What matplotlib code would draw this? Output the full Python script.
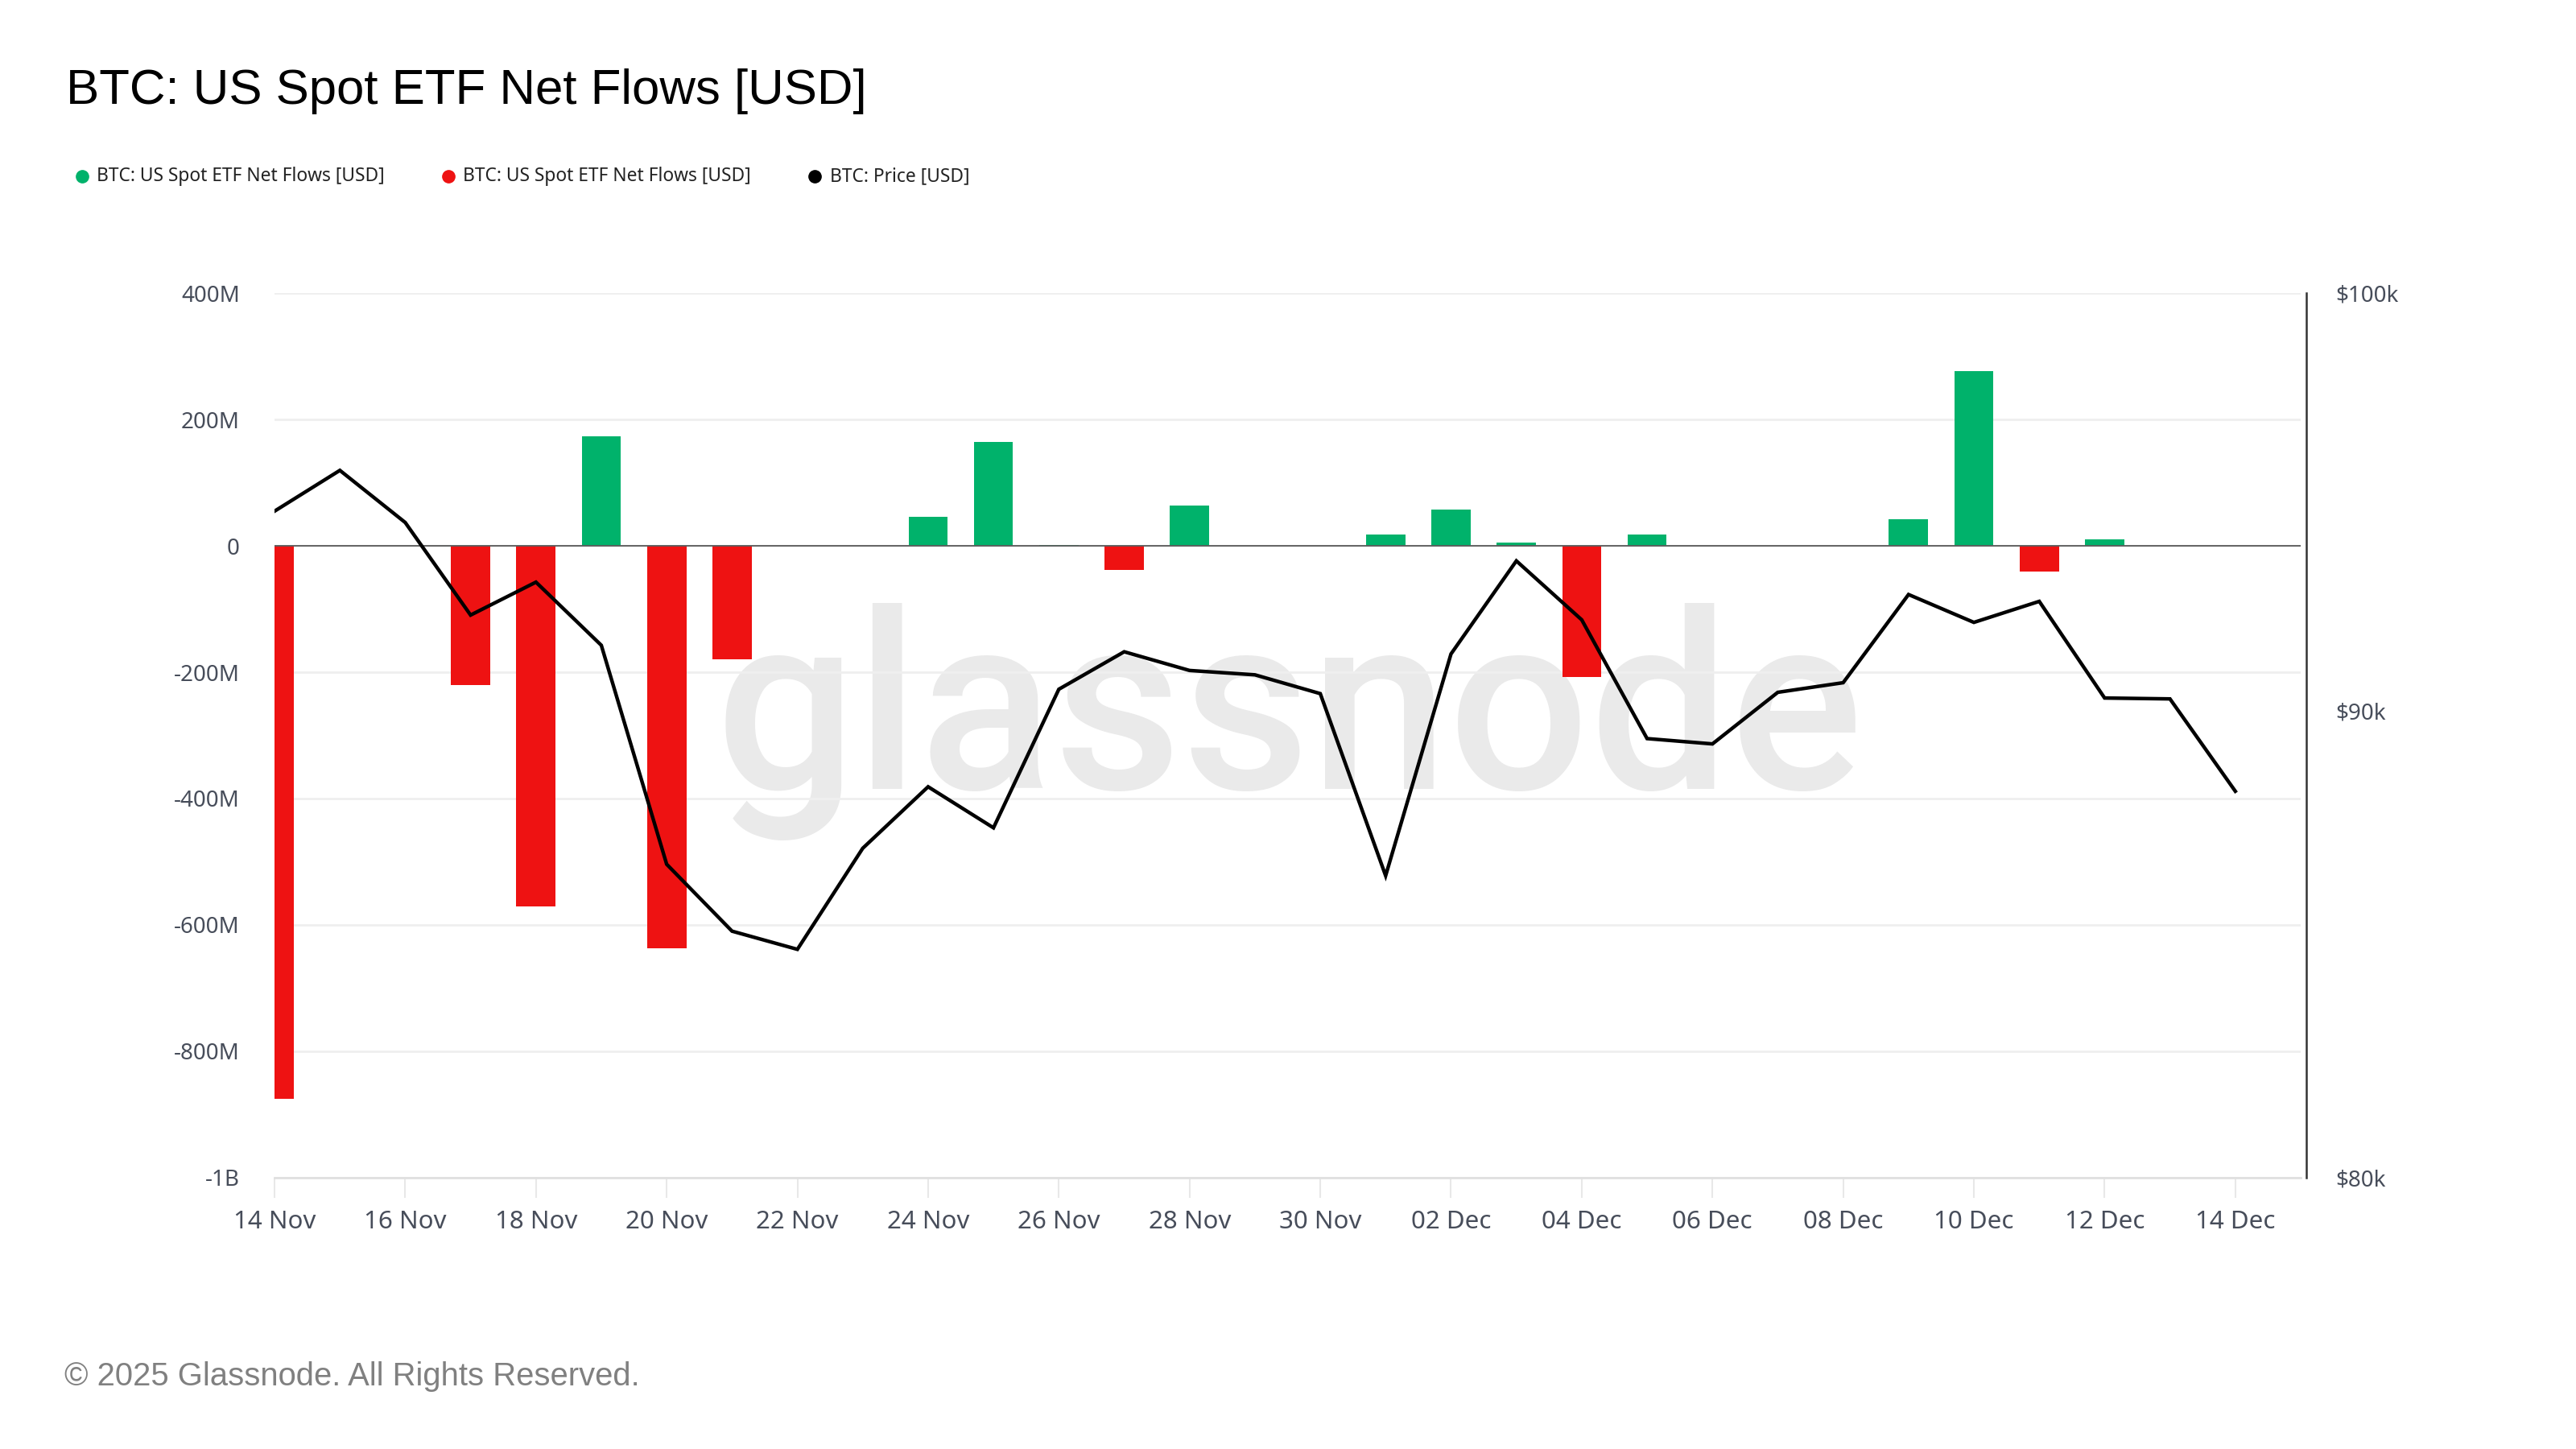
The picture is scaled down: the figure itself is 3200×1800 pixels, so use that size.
import matplotlib
matplotlib.use("Agg")
import matplotlib.pyplot as plt
from matplotlib.lines import Line2D
import numpy as np
import pandas as pd

# ---------------- data ----------------
dates = pd.date_range("2025-11-14", "2025-12-14", freq="D")
# net flows in millions USD (0 = no bar)
flows = [-875, 0, 0, -220, -571, 173, -637, -180, 0, 0, 46, 165, 2, -38, 64, 0, 0,
         18, 57, 5, -208, 18, 0, 0, 0, 42, 277, -41, 10, 0, 0]
price = [94650, 95630, 94380, 92200, 92970, 91500, 86580, 85130, 84740, 86930, 88290,
         87380, 90490, 91350, 90920, 90820, 90390, 86330, 91300, 93470, 92090, 89370,
         89250, 90420, 90640, 92680, 92030, 92520, 90290, 90270, 88190]
tick_idx = list(range(0, 31, 2))
tick_labels = [d.strftime("%d %b") for d in dates[tick_idx]]
left_ticks = [400, 200, 0, -200, -400, -600, -800, -1000]
left_labels = ["400M", "200M", "0", "-200M", "-400M", "-600M", "-800M", "-1B"]
right_ticks = [80000, 90000, 100000]
right_labels = ["$80k", "$90k", "$100k"]

GREEN = "#00b26b"
RED = "#ee1212"
TXT = "#474d5a"
FONT = ["Noto Sans", "DejaVu Sans"]

W, H = 3200, 1800
fig = plt.figure(figsize=(32, 18), dpi=100)
fig.patch.set_facecolor("white")

L, R, T, B = 341, 2858, 364.4, 1462.6
ax = fig.add_axes([L / W, 1 - B / H, (R - L) / W, (B - T) / H])

x = np.arange(len(dates))
pos = [v if v > 0 else 0 for v in flows]
neg = [v if v < 0 else 0 for v in flows]

ax.bar(x, pos, width=0.6, color=GREEN, zorder=2)
ax.bar(x, neg, width=0.6, color=RED, zorder=2)
ax.axhline(0, color="#5a5a5a", lw=1.3, zorder=3)

ax.set_xlim(0, 31)
ax.set_ylim(-1000, 400)
ax.set_yticks(left_ticks)
ax.set_yticklabels(left_labels)
ax.set_xticks(tick_idx)
ax.set_xticklabels(tick_labels)

ax.yaxis.grid(True, color="#efefef", lw=2)
ax.set_axisbelow(True)
for s in ["top", "left", "right"]:
    ax.spines[s].set_visible(False)
ax.spines["bottom"].set_color("#e0e0e0")
ax.spines["bottom"].set_linewidth(2)

ax.tick_params(axis="y", length=0, pad=31, labelsize=20, labelcolor=TXT)
ax.tick_params(axis="x", length=18, width=1.5, color="#e8e8e8", pad=11,
               labelsize=22.5, labelcolor=TXT)
for lab in ax.get_xticklabels() + ax.get_yticklabels():
    lab.set_family(FONT)

# watermark
ax.text((1602 - L) / (R - L), (B - 980.5) / (B - T), "glassnode", transform=ax.transAxes,
        ha="center", va="baseline", fontsize=222, fontweight="medium",
        family=["Roboto", "DejaVu Sans"], color="#eaeaea", zorder=0)

# price axis
ax2 = ax.twinx()
ax2.plot(x, price, color="black", lw=3.2, zorder=5, solid_joinstyle="miter")
ax2.set_yscale("log")
ax2.set_ylim(80000, 100000)
ax2.set_yticks(right_ticks)
ax2.set_yticklabels(right_labels)
ax2.yaxis.set_minor_locator(matplotlib.ticker.NullLocator())
for s in ["top", "left", "bottom"]:
    ax2.spines[s].set_visible(False)
ax2.spines["right"].set_position(("outward", 5))
ax2.spines["right"].set_color("#333333")
ax2.spines["right"].set_linewidth(1.8)
ax2.tick_params(axis="y", length=0, pad=26, labelsize=20, labelcolor=TXT)
for lab in ax2.get_yticklabels():
    lab.set_family(FONT)

# title
fig.text(82 / W, 1 - 114 / H, "BTC: US Spot ETF Net Flows [USD]", ha="left", va="center",
         fontsize=44.5, family=["Liberation Sans", "DejaVu Sans"], color="black")

# legend
leg_items = [(102, 120, GREEN, "BTC: US Spot ETF Net Flows [USD]"),
             (557, 575, RED, "BTC: US Spot ETF Net Flows [USD]"),
             (1012, 1031, "black", "BTC: Price [USD]")]
ly = 1 - 219 / H
for mx, tx, c, t in leg_items:
    fig.add_artist(Line2D([mx / W], [ly], marker="o", markersize=11, color=c, lw=0,
                          transform=fig.transFigure))
    fig.text(tx / W, ly, t, ha="left", va="center", fontsize=16.4, family=FONT, color="#222222")

# footer
fig.text(80 / W, 1 - 1710 / H, "\u00a9 2025 Glassnode. All Rights Reserved.", ha="left",
         va="center", fontsize=28.8, family=["Liberation Sans", "DejaVu Sans"], color="#808080")

fig.savefig("out.png", dpi=100, facecolor="white")
